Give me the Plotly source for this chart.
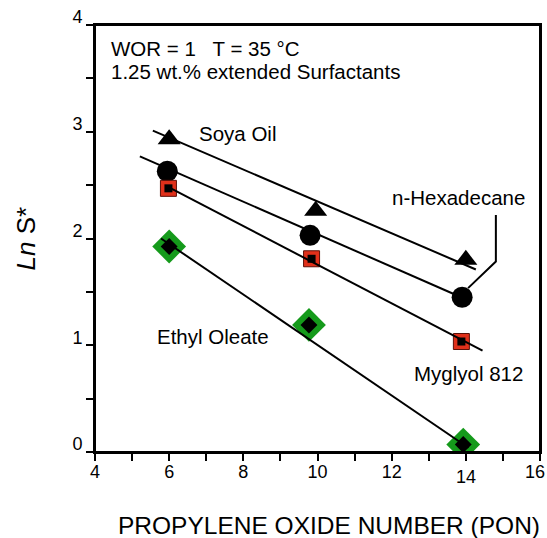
import plotly.graph_objects as go

# ---- data ----
pon_soya = [6.0, 9.95, 14.0]
lns_soya = [2.93, 2.26, 1.80]
pon_hexa = [5.95, 9.8, 13.9]
lns_hexa = [2.63, 2.03, 1.45]
pon_mygl = [5.98, 9.84, 13.88]
lns_mygl = [2.47, 1.81, 1.035]
pon_ethyl = [6.0, 9.77, 13.93]
lns_ethyl = [1.925, 1.19, 0.07]

fit_soya_x = [5.56, 14.27]
fit_soya_y = [3.01, 1.71]
fit_hexa_x = [5.21, 13.89]
fit_hexa_y = [2.77, 1.447]
fit_mygl_x = [5.93, 14.45]
fit_mygl_y = [2.49, 0.95]
fit_ethyl_x = [5.78, 14.07]
fit_ethyl_y = [2.0, 0.04]

leader_x = [14.06, 14.81, 14.81]
leader_y = [1.535, 1.785, 2.22]

x_ticks = [4, 6, 8, 10, 12, 14, 16]
x_ticktext = ["4", "6", "8", "10", "12", "", ""]   # 14 and 16 placed separately (offset as in source)
y_ticks = [0, 1, 2, 3, 4]

FONT = "Liberation Sans, Arial, sans-serif"

fig = go.Figure()

def mk(x, y, symbol, size, color, lc="black", lw=0):
    fig.add_trace(go.Scatter(x=x, y=y, mode="markers", showlegend=False, hoverinfo="skip",
                             marker=dict(symbol=symbol, size=size, color=color,
                                         line=dict(color=lc, width=lw))))

def ln(x, y):
    fig.add_trace(go.Scatter(x=x, y=y, mode="lines", showlegend=False, hoverinfo="skip",
                             line=dict(color="black", width=2)))

# markers
mk(pon_soya, lns_soya, "triangle-up", 20, "black")
mk(pon_hexa, lns_hexa, "circle", 21, "black")
mk(pon_mygl, lns_mygl, "square", 16, "#e0301a", "#5a1008", 1)
mk(pon_mygl, lns_mygl, "square", 8, "black")
mk(pon_ethyl, lns_ethyl, "diamond", 26, "#159a1b")
mk(pon_ethyl, lns_ethyl, "diamond", 13, "black")

# regression lines
ln(fit_soya_x, fit_soya_y)
ln(fit_hexa_x, fit_hexa_y)
ln(fit_mygl_x, fit_mygl_y)
ln(fit_ethyl_x, fit_ethyl_y)
ln(leader_x, leader_y)

ann_font = dict(family=FONT, size=20.5, color="black")
labels = [
    (6.74, 2.987, "Soya Oil"),
    (11.96, 2.38, "n-Hexadecane"),
    (5.62, 1.08, "Ethyl Oleate"),
    (12.54, 0.74, "Myglyol 812"),
    (4.39, 3.78, "WOR = 1\u00a0\u00a0 T = 35 °C"),
    (4.39, 3.56, "1.25 wt.% extended Surfactants"),
]
for x, y, t in labels:
    fig.add_annotation(x=x, y=y, xref="x", yref="y", text=t, showarrow=False,
                       xanchor="left", yanchor="middle", font=ann_font)

# the two offset x tick labels of the source
tick_font = dict(family=FONT, size=18, color="black")
fig.add_annotation(x=x_ticks[5], y=0, xref="x", yref="y", text=str(x_ticks[5]),
                   showarrow=False, xanchor="center", yanchor="middle",
                   yshift=-24.5, font=tick_font)
fig.add_annotation(x=x_ticks[6], y=0, xref="x", yref="y", text=str(x_ticks[6]),
                   showarrow=False, xanchor="center", yanchor="middle",
                   xshift=-5, yshift=-19.5, font=tick_font)

# axis titles
fig.add_annotation(x=0, y=0.5, xref="paper", yref="paper", xshift=-70,
                   text="<i>Ln</i> S*", textangle=-90, showarrow=False,
                   xanchor="center", yanchor="middle",
                   font=dict(family=FONT, size=26, color="black"))
fig.add_annotation(x=0.5, y=0, xref="paper", yref="paper", xshift=11.5, yshift=-73,
                   text="PROPYLENE OXIDE NUMBER (PON)", showarrow=False,
                   xanchor="center", yanchor="middle",
                   font=dict(family=FONT, size=24.5, color="black"))

# plot frame
fig.add_shape(type="rect", xref="paper", yref="paper", x0=0, x1=1, y0=0, y1=1,
              line=dict(color="black", width=2), layer="above")

axis_common = dict(showline=True, linecolor="black", linewidth=2, mirror=True,
                   showgrid=False, zeroline=False, ticks="outside", ticklen=7,
                   tickwidth=1.5, tickcolor="black", ticklabeloverflow="allow",
                   automargin=False, tickfont=tick_font)

fig.update_xaxes(range=[4, 16], tickvals=x_ticks, ticktext=x_ticktext, ticklabelstandoff=-5,
                 minor=dict(dtick=1, ticks="outside", ticklen=7, tickwidth=1.5,
                            tickcolor="black", showgrid=False),
                 **axis_common)
fig.update_yaxes(range=[0, 4], tickvals=y_ticks, ticklabelshift=-8,
                 minor=dict(dtick=0.5, ticks="outside", ticklen=7, tickwidth=1.5,
                            tickcolor="black", showgrid=False),
                 **axis_common)

fig.update_layout(width=547, height=538,
                  margin=dict(l=95, r=7, t=25, b=86),
                  paper_bgcolor="white", plot_bgcolor="white",
                  font=dict(family=FONT, color="black"))

fig.write_html("out.html", config={"displayModeBar": False},
               post_script="document.body.style.margin='0';document.body.style.overflow='hidden';")
